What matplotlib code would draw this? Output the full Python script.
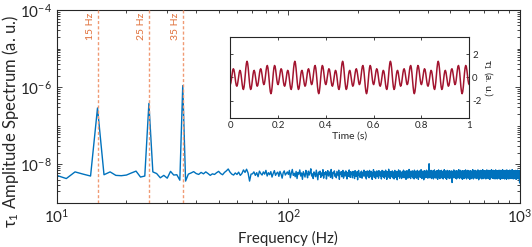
import numpy as np
import matplotlib
matplotlib.use("Agg")
import matplotlib.pyplot as plt
import matplotlib.transforms as mtransforms
from matplotlib.ticker import FixedLocator, FuncFormatter, NullFormatter, LogLocator

plt.rcParams['font.family'] = ['Lato', 'DejaVu Sans']
plt.rcParams['mathtext.fontset'] = 'custom'
plt.rcParams['mathtext.rm'] = 'Lato'
plt.rcParams['mathtext.it'] = 'Lato:italic'
plt.rcParams['mathtext.default'] = 'regular'
plt.rcParams['axes.unicode_minus'] = False

# ---------------- data ----------------
# amplitude spectrum, units of 1e-10 (a.u.), 1 Hz bins starting at 10 Hz
amp_low = [  # 10-99 Hz
    52, 43, 64, 56, 50, 2900, 54, 64, 52, 51,
    53, 60, 67, 47, 50, 3800, 64, 58, 45, 52,
    44, 66, 53, 54, 39, 11000, 37, 56, 60, 65,
    58, 55, 62, 57, 64, 58, 52, 57, 55, 61,
    66, 58, 54, 62, 68, 76, 63, 56, 53, 60,
    55, 63, 52, 58, 72, 62, 75, 60, 37, 56,
    57, 64, 52, 61, 48, 67, 58, 53, 64, 56,
    70, 50, 61, 54, 65, 47, 58, 69, 52, 59,
    63, 49, 66, 56, 44, 61, 68, 53, 58, 64,
]
amp_mid = [  # 100-399 Hz
    55, 70, 45, 60, 74, 52, 59, 48, 66, 43,
    62, 56, 72, 50, 60, 41, 65, 55, 47, 70,
    58, 45, 67, 53, 61, 77, 50, 57, 43, 64,
    58, 48, 71, 54, 40, 63, 56, 67, 46, 60,
    51, 73, 44, 61, 55, 65, 42, 58, 69, 50,
    57, 64, 46, 74, 54, 43, 62, 58, 68, 49,
    56, 45, 66, 58, 51, 71, 41, 61, 56, 65,
    48, 60, 70, 44, 54, 63, 50, 68, 57, 42,
    62, 58, 49, 72, 54, 46, 65, 57, 60, 45,
    66, 54, 58, 43, 69, 61, 49, 57, 65, 40,
    60, 70, 52, 58, 46, 63, 55, 67, 44, 61,
    57, 50, 71, 54, 60, 47, 65, 42, 58, 68,
    50, 57, 64, 45, 70, 54, 59, 48, 66, 56,
    41, 62, 52, 73, 55, 46, 65, 58, 43, 63,
    54, 68, 49, 60, 57, 44, 69, 55, 61, 50,
    58, 65, 42, 57, 70, 50, 60, 47, 67, 54,
    44, 63, 57, 71, 49, 58, 41, 65, 55, 62,
    52, 75, 46, 58, 66, 43, 60, 54, 65, 48,
    57, 68, 45, 61, 54, 64, 42, 58, 70, 50,
    57, 46, 66, 55, 60, 40, 65, 57, 49, 72,
    54, 61, 44, 58, 68, 50, 57, 63, 43, 60,
    55, 65, 47, 58, 71, 52, 45, 61, 56, 67,
    48, 58, 41, 63, 55, 69, 50, 60, 44, 65,
    57, 53, 74, 46, 58, 63, 51, 43, 67, 56,
    49, 62, 58, 68, 45, 55, 65, 50, 60, 42,
    71, 54, 58, 47, 63, 56, 67, 44, 61, 52,
    58, 70, 48, 57, 41, 65, 55, 62, 50, 68,
    56, 46, 63, 54, 73, 49, 60, 43, 67, 55,
    58, 47, 65, 56, 40, 62, 69, 52, 58, 45,
    63, 55, 67, 49, 57, 71, 46, 60, 54, 64,
]
amp_high = [  # 400-1000 Hz
    44, 58, 68, 50, 57, 104, 54, 62, 45, 65,
    55, 58, 48, 70, 52, 43, 63, 56, 67, 47,
    60, 54, 68, 42, 58, 62, 50, 72, 55, 46,
    65, 56, 52, 60, 44, 67, 55, 62, 48, 69,
    54, 41, 63, 58, 50, 72, 57, 46, 65, 55,
    60, 43, 68, 52, 58, 64, 48, 57, 70, 45,
    58, 54, 65, 47, 62, 56, 42, 67, 55, 60,
    50, 73, 54, 46, 63, 57, 68, 44, 58, 65,
    51, 57, 41, 62, 55, 70, 48, 60, 54, 64,
    46, 58, 67, 51, 57, 43, 69, 55, 62, 48,
    60, 54, 65, 44, 57, 68, 50, 58, 63, 34,
    55, 60, 49, 67, 56, 45, 62, 54, 72, 50,
    58, 64, 46, 57, 68, 54, 44, 62, 55, 66,
    50, 60, 42, 69, 57, 48, 64, 54, 58, 45,
    67, 55, 62, 52, 73, 47, 57, 65, 43, 60,
    54, 64, 50, 70, 57, 46, 62, 55, 67, 44,
    58, 52, 65, 56, 41, 62, 69, 50, 58, 48,
    64, 55, 60, 43, 68, 54, 58, 66, 47, 57,
    62, 52, 72, 45, 58, 65, 54, 57, 42, 67,
    55, 60, 49, 64, 57, 70, 46, 58, 52, 66,
    44, 60, 55, 68, 50, 62, 56, 41, 65, 54,
    58, 47, 69, 55, 62, 50, 58, 43, 65, 57,
    54, 67, 46, 60, 55, 73, 49, 58, 64, 42,
    57, 67, 52, 60, 54, 65, 45, 62, 56, 50,
    70, 54, 58, 46, 64, 56, 67, 43, 60, 54,
    65, 49, 58, 68, 44, 57, 62, 51, 72, 55,
    47, 60, 65, 40, 58, 55, 67, 50, 62, 56,
    45, 68, 54, 60, 49, 64, 57, 70, 44, 58,
    52, 65, 55, 62, 42, 67, 56, 50, 60, 54,
    73, 46, 58, 64, 52, 57, 43, 66, 55, 62,
    50, 69, 57, 45, 62, 54, 66, 58, 47, 68,
    55, 60, 42, 64, 57, 52, 67, 46, 58, 72,
    54, 60, 49, 62, 56, 44, 65, 55, 68, 50,
    58, 64, 43, 57, 70, 52, 60, 47, 66, 55,
    58, 41, 67, 57, 62, 49, 69, 54, 58, 45,
    64, 56, 52, 73, 46, 60, 55, 65, 50, 58,
    68, 44, 57, 64, 54, 60, 49, 70, 55, 43,
    62, 58, 67, 50, 57, 64, 46, 69, 55, 60,
    42, 66, 52, 58, 57, 72, 47, 62, 54, 65,
    57, 45, 67, 55, 58, 50, 64, 42, 60, 69,
    54, 57, 49, 66, 58, 44, 62, 55, 68, 52,
    60, 47, 71, 57, 54, 64, 43, 58, 67, 55,
    50, 62, 57, 41, 65, 58, 70, 49, 60, 54,
    64, 45, 57, 68, 55, 62, 50, 58, 43, 67,
    54, 73, 57, 46, 64, 55, 60, 52, 66, 44,
    58, 69, 54, 62, 48, 57, 67, 42, 60, 55,
    64, 52, 70, 47, 58, 66, 54, 57, 45, 68,
    55, 62, 50, 58, 41, 65, 57, 72, 52, 60,
    55, 46, 64, 58, 67, 50, 57, 44, 69, 54,
    62, 48, 66, 57, 60, 42, 68, 55, 58, 47,
    64, 54, 71, 50, 58, 62, 45, 67, 55, 57,
    65, 49, 60, 54, 43, 70, 57, 64, 52, 58,
    46, 67, 55, 62, 50, 73, 57, 44, 65, 54,
    60, 48, 68, 55, 58, 42, 64, 57, 69, 50,
    60, 54, 65, 45, 58, 68, 55, 49, 62, 57,
    43, 67, 54, 60, 50, 70, 57, 64, 46, 58,
    66, 52, 41, 62, 55, 68, 49, 60, 57, 64,
    44, 67, 55, 58, 50, 71, 54, 62, 47, 60,
    57, 66, 42, 58, 68, 54, 62, 48, 57, 64,
    45, 69, 55, 58, 52, 66, 33, 60, 57, 67,
    54,
]
spec_unit = 1e-10
freq_start_hz = 10

marker_freqs = [15, 25, 35]
marker_labels = ['15 Hz', '25 Hz', '35 Hz']

# time trace of tau_1 (a.u.), sampled every 2.5 ms from 0 to 1 s
tau_trace = [
    -0.609, -0.447, -0.114, 0.278, 0.600, 0.749, 0.675, 0.397, 0.000, -0.397,
    -0.675, -0.749, -0.600, -0.278, 0.114, 0.447, 0.609, 0.539, 0.248, -0.185,
    -0.630, -0.948, -1.028, -0.827, -0.376, 0.218, 0.805, 1.233, 1.390, 1.233,
    0.805, 0.218, -0.376, -0.827, -1.028, -0.948, -0.630, -0.185, 0.248, 0.539,
    0.609, 0.447, 0.114, -0.278, -0.600, -0.749, -0.675, -0.397, 0.000, 0.397,
    0.675, 0.749, 0.600, 0.278, -0.114, -0.447, -0.609, -0.539, -0.248, 0.185,
    0.630, 0.948, 1.028, 0.827, 0.376, -0.218, -0.805, -1.233, -1.390, -1.233,
    -0.805, -0.218, 0.376, 0.827, 1.028, 0.948, 0.630, 0.185, -0.248, -0.539,
    -0.609, -0.447, -0.114, 0.278, 0.600, 0.749, 0.675, 0.397, 0.000, -0.397,
    -0.675, -0.749, -0.600, -0.278, 0.114, 0.447, 0.609, 0.539, 0.248, -0.185,
    -0.630, -0.948, -1.028, -0.827, -0.376, 0.218, 0.805, 1.233, 1.390, 1.233,
    0.805, 0.218, -0.376, -0.827, -1.028, -0.948, -0.630, -0.185, 0.248, 0.539,
    0.609, 0.447, 0.114, -0.278, -0.600, -0.749, -0.675, -0.397, 0.000, 0.397,
    0.675, 0.749, 0.600, 0.278, -0.114, -0.447, -0.609, -0.539, -0.248, 0.185,
    0.630, 0.948, 1.028, 0.827, 0.376, -0.218, -0.805, -1.233, -1.390, -1.233,
    -0.805, -0.218, 0.376, 0.827, 1.028, 0.948, 0.630, 0.185, -0.248, -0.539,
    -0.609, -0.447, -0.114, 0.278, 0.600, 0.749, 0.675, 0.397, 0.000, -0.397,
    -0.675, -0.749, -0.600, -0.278, 0.114, 0.447, 0.609, 0.539, 0.248, -0.185,
    -0.630, -0.948, -1.028, -0.827, -0.376, 0.218, 0.805, 1.233, 1.390, 1.233,
    0.805, 0.218, -0.376, -0.827, -1.028, -0.948, -0.630, -0.185, 0.248, 0.539,
    0.609, 0.447, 0.114, -0.278, -0.600, -0.749, -0.675, -0.397, 0.000, 0.397,
    0.675, 0.749, 0.600, 0.278, -0.114, -0.447, -0.609, -0.539, -0.248, 0.185,
    0.630, 0.948, 1.028, 0.827, 0.376, -0.218, -0.805, -1.233, -1.390, -1.233,
    -0.805, -0.218, 0.376, 0.827, 1.028, 0.948, 0.630, 0.185, -0.248, -0.539,
    -0.609, -0.447, -0.114, 0.278, 0.600, 0.749, 0.675, 0.397, 0.000, -0.397,
    -0.675, -0.749, -0.600, -0.278, 0.114, 0.447, 0.609, 0.539, 0.248, -0.185,
    -0.630, -0.948, -1.028, -0.827, -0.376, 0.218, 0.805, 1.233, 1.390, 1.233,
    0.805, 0.218, -0.376, -0.827, -1.028, -0.948, -0.630, -0.185, 0.248, 0.539,
    0.609, 0.447, 0.114, -0.278, -0.600, -0.749, -0.675, -0.397, 0.000, 0.397,
    0.675, 0.749, 0.600, 0.278, -0.114, -0.447, -0.609, -0.539, -0.248, 0.185,
    0.630, 0.948, 1.028, 0.827, 0.376, -0.218, -0.805, -1.233, -1.390, -1.233,
    -0.805, -0.218, 0.376, 0.827, 1.028, 0.948, 0.630, 0.185, -0.248, -0.539,
    -0.609, -0.447, -0.114, 0.278, 0.600, 0.749, 0.675, 0.397, 0.000, -0.397,
    -0.675, -0.749, -0.600, -0.278, 0.114, 0.447, 0.609, 0.539, 0.248, -0.185,
    -0.630, -0.948, -1.028, -0.827, -0.376, 0.218, 0.805, 1.233, 1.390, 1.233,
    0.805, 0.218, -0.376, -0.827, -1.028, -0.948, -0.630, -0.185, 0.248, 0.539,
    0.609, 0.447, 0.114, -0.278, -0.600, -0.749, -0.675, -0.397, 0.000, 0.397,
    0.675, 0.749, 0.600, 0.278, -0.114, -0.447, -0.609, -0.539, -0.248, 0.185,
    0.630, 0.948, 1.028, 0.827, 0.376, -0.218, -0.805, -1.233, -1.390, -1.233,
    -0.805, -0.218, 0.376, 0.827, 1.028, 0.948, 0.630, 0.185, -0.248, -0.539,
    -0.609,
]
inset_xticks = [0, 0.2, 0.4, 0.6, 0.8, 1]
inset_xticklabels = ['0', '0.2', '0.4', '0.6', '0.8', '1']
inset_yticks = [-2, 0, 2]

# ---------------- plot ----------------
amp = np.array(amp_low + amp_mid + amp_high, dtype=float) * spec_unit
freq = np.arange(freq_start_hz, freq_start_hz + len(amp))
tau = np.array(tau_trace)
t = np.linspace(0, 1, len(tau))

axis_col = '#262626'
fig = plt.figure(figsize=(5.32, 2.47), dpi=100)
ax = fig.add_axes([0.1066, 0.1781, 0.8709, 0.7814])
ax.plot(freq, amp, color='#0072BD', lw=1.0)
ax.set_xscale('log')
ax.set_yscale('log')
ax.set_xlim(10, 1000)
ax.set_ylim(1e-9, 1e-4)

trans = mtransforms.blended_transform_factory(ax.transData, ax.transAxes) + \
    mtransforms.ScaledTranslation(-2.5 / 100, 0, fig.dpi_scale_trans)
for f, lab in zip(marker_freqs, marker_labels):
    ax.axvline(f, color='#F09A74', ls=(0, (2.2, 1.6)), lw=1.0, zorder=3)
    ax.text(f, 0.985, lab, transform=trans, rotation=90, ha='right', va='top',
            color='#E0703A', fontsize=7.5)

ax.xaxis.set_major_locator(FixedLocator([10, 100, 1000]))
ax.xaxis.set_minor_locator(LogLocator(base=10, subs=np.arange(2, 10), numticks=20))
ax.xaxis.set_minor_formatter(NullFormatter())
ax.xaxis.set_major_formatter(FuncFormatter(lambda v, p: r'$10^{%d}$' % round(np.log10(v))))
ax.yaxis.set_major_locator(FixedLocator([1e-8, 1e-6, 1e-4]))
ax.yaxis.set_minor_locator(LogLocator(base=10, subs=np.arange(1, 10), numticks=30))
ax.yaxis.set_minor_formatter(NullFormatter())
ax.yaxis.set_major_formatter(FuncFormatter(lambda v, p: r'$10^{%d}$' % round(np.log10(v))))

ax.tick_params(which='both', direction='in', top=True, right=True, colors=axis_col,
               width=0.6, labelsize=11)
ax.tick_params(which='major', length=3.5)
ax.tick_params(which='minor', length=2)
for s in ax.spines.values():
    s.set_color(axis_col)
    s.set_linewidth(0.8)

ax.set_ylabel(r'$\tau_1$ Amplitude Spectrum (a. u.)', fontsize=12, color=axis_col)
ax.yaxis.set_label_coords(-0.077, 0.42)
ax.set_xlabel('Frequency (Hz)', fontsize=10.8, color=axis_col)
ax.xaxis.set_label_coords(0.5, -0.145)

# inset
ins = fig.add_axes([0.4329, 0.5211, 0.4492, 0.3304])
ins.plot(t, tau, color='#A2142F', lw=1.1)
ins.set_xlim(0, 1)
ins.set_ylim(-3.5, 3.5)
ins.set_xticks(inset_xticks)
ins.set_xticklabels(inset_xticklabels)
ins.set_yticks(inset_yticks)
ins.yaxis.tick_right()
ins.yaxis.set_label_position('right')
ins.tick_params(direction='in', left=True, right=True, top=True, bottom=True,
                labelsize=7, length=2.5, width=0.6, colors=axis_col, pad=2)
for s in ins.spines.values():
    s.set_color(axis_col)
    s.set_linewidth(0.8)
ins.set_xlabel('Time (s)', fontsize=7.5, color=axis_col, labelpad=1)
ins.set_ylabel(r'$\tau_1$ (a. u.)', fontsize=7.5, color=axis_col, rotation=270, labelpad=10)

fig.savefig('out.png', dpi=100)
